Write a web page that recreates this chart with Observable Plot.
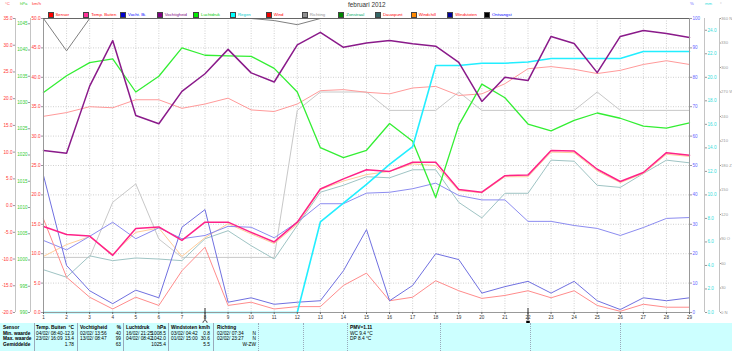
<!DOCTYPE html>
<html><head><meta charset="utf-8">
<script src="https://cdn.jsdelivr.net/npm/d3@7"></script>
<script src="https://cdn.jsdelivr.net/npm/@observablehq/plot@0.6"></script>
<style>
body{margin:0;background:#fff;font-family:"Liberation Sans",Arial,sans-serif;}
#wrap{position:relative;width:732px;height:351px;overflow:hidden;background:#fff;}
#chart{position:absolute;left:0;top:0;}
.t{position:absolute;white-space:nowrap;line-height:1;}
.lg{position:absolute;top:12px;height:5px;font-size:4.3px;line-height:5px;white-space:nowrap;}
.lg i{display:inline-block;width:4px;height:4px;border:0.5px solid #444;vertical-align:top;margin-right:2px;margin-top:0.3px;}
#tbl{position:absolute;left:0;top:323px;width:732px;height:28px;background:#ccffff;font-size:4.8px;}
#tbl .b{font-weight:bold;}
.vs{position:absolute;top:0;height:28px;border-left:0.6px solid #9ab;}
.vd{position:absolute;top:0;height:28px;border-left:0.6px dotted #9ab;}
</style></head><body><div id="wrap"><div id="chart"></div></div>
<script>
// ---------- data ----------
const days = [1,2,3,4,5,6,7,8,9,10,11,12,13,14,15,16,17,18,19,20,21,22,23,24,25,26,27,28,29];
// Sensor temperature (°C)
const sensorTemp = [16.7,17.4,18.5,18.3,19.8,19.8,18.2,19.0,20.1,17.9,17.6,19.0,21.5,21.7,21.2,20.9,22.0,22.3,20.6,20.9,22.8,25.6,26.0,25.5,24.7,25.3,26.4,27.1,26.4];
// Temp. Buiten (°C)
const tempBuiten = [-3.9,-5.4,-5.7,-9.3,-4.3,-4.0,-6.5,-3.1,-3.1,-5.0,-6.8,-3.1,3.1,5.0,6.7,6.4,8.1,8.1,3.0,2.5,5.6,5.7,10.3,10.2,6.8,4.5,6.2,9.9,9.4];
// Windchill (°C)
const windchill = [-9.5,-7.3,-5.8,-9.1,-5.0,-4.2,-9.5,-6.0,-3.4,-5.3,-7.1,-3.5,3.0,4.6,5.8,6.4,7.8,7.5,2.8,2.4,5.4,5.4,10.0,9.9,6.5,4.3,6.0,9.6,9.2];
// Dauwpunt (°C)
const dauwpunt = [-12.0,-13.4,-9.4,-10.3,-9.8,-10.0,-10.3,-6.2,-4.7,-7.5,-10.0,-3.7,2.5,3.8,5.4,5.2,6.7,6.7,0.6,-2.3,2.3,2.3,8.5,8.3,3.8,3.4,6.0,8.5,8.0];
// Vocht. Binnen (%)
const vochtBi = [24.5,21.3,25.9,30.7,25.1,28.8,25.1,26.2,29.3,29.0,25.4,30.7,37.0,37.0,40.6,40.9,42.1,44.0,39.8,38.3,38.3,31.0,31.0,29.6,28.6,26.2,28.9,32.0,32.3];
// Vochtigheid (%)
const vochtigheid = [55.1,54.2,77.0,92.5,67.0,64.2,75.2,81.2,89.5,81.5,78.4,91.0,95.3,90.2,91.7,92.5,91.4,90.6,85.1,71.8,80.0,78.9,93.9,91.5,81.6,93.9,95.9,94.9,93.5];
// Luchtdruk (hPa)
const luchtdruk = [1031.9,1035.1,1037.6,1038.3,1032.0,1035.0,1040.4,1039.0,1038.9,1038.8,1036.5,1032.0,1021.4,1019.5,1020.9,1026.0,1022.6,1011.9,1025.7,1033.5,1030.9,1025.9,1024.6,1026.6,1028.0,1027.0,1025.5,1025.1,1026.1];
// Regen (mm, cumulative)
const regen = [0,0,0,0,0,0,0,0,0,0,0,0,7.7,9.3,10.9,12.6,14.1,21.0,21.0,21.2,21.2,21.3,21.6,21.6,21.6,21.6,22.2,22.2,22.2];
// Wind (km/h)
const wind = [15.9,6.0,2.6,0.6,2.6,1.2,7.1,11.1,1.2,1.75,0.6,1.0,1.0,4.6,6.7,2.0,2.6,5.4,3.7,2.4,2.9,3.7,2.5,3.7,1.2,0.2,1.4,0.9,0.9];
// Windstoten (km/h)
const windstoten = [23.3,8.0,3.7,1.5,3.8,2.5,14.5,17.5,1.75,2.5,1.4,1.75,2.0,7.1,14.1,2.0,4.6,10.0,9.0,3.3,4.4,5.3,3.3,5.3,2.0,0.5,2.5,2.0,2.5];
// Richting (degrees)
const richting = [67.5,67.5,67.5,135,157.5,90,67.5,67.5,67.5,67.5,67.5,247.5,270,270,270,247.5,247.5,247.5,270,247.5,247.5,247.5,247.5,247.5,270,247.5,247.5,247.5,247.5];
// Ontvangst (%)
const ontvangst = [100,89,100,100,100,100,100,100,100,100,99.3,97.9,100,100,100,100,100,100,100,100,100,100,100,100,100,100,100,100,100];
// moon markers
const moonFull = [8];
const moonNew = [22];

// axis ranges and tick labels
const axKmh = {min:0, max:50};
const axC = {min:-20, max:35};
const axHpa = {min:990, max:1046};
const axPct = {min:0, max:100};
const axMm = {min:0, max:25};
const axDir = {min:0, max:360};
const kmhTicks = [0,5,10,15,20,25,30,35,40,45,50];
const cTicks = [-20,-15,-10,-5,0,5,10,15,20,25,30,35];
const hpaTicks = [990,995,1000,1005,1010,1015,1020,1025,1030,1035,1040,1045];
const pctTicks = [0,10,20,30,40,50,60,70,80,90,100];
const mmTicks = [0,2,4,6,8,10,12,14,16,18,20,22,24];
const dirTicks = [0,30,60,90,120,150,180,210,240,270,300,330,360];
const dirLabels = ["0 N","30","60","90 O","120","150","180 Z","210","240","270 W","300","330","360 N"];

const legendNames = ["Sensor","Temp. Buiten","Vocht. Bi.","Vochtigheid","Luchtdruk","Regen","Wind","Richting","Zonstraal","Dauwpunt","Windchill","Windstoten","Ontvangst"];
const legendBox = ["#ff0000","#ff3399","#0000cc","#800080","#00ee00","#00ffff","#ee0000","#909090","#008800","#336666","#ff8800","#000099","#000000"];
const legendText = ["#ff0000","#ff0000","#0000ff","#800080","#00cc00","#00cccc","#ff0000","#909090","#00aa66","#ff0000","#ff0000","#ff0000","#0000ff"];

// ---------- helpers ----------
const f = (ax, v) => (v - ax.min) / (ax.max - ax.min);
const rows = (vals, ax) => days.map((d, i) => ({d, y: f(ax, vals[i])}));
const L = (vals, ax, stroke, w) => Plot.line(rows(vals, ax), {x: "d", y: "y", stroke, strokeWidth: w});
const fs = 4.6;
const axis = (ticks, ax, anchor, dx, color, fmt, size) =>
  Plot.axisY(ticks.map(v => f(ax, v)), {anchor, dx, label: null, tickSize: 2, tickPadding: 1, fontSize: size || fs, fill: color, stroke: "#999",
    tickFormat: (d) => fmt(ax.min + d * (ax.max - ax.min))});

const chart = Plot.plot({
  width: 732, height: 323,
  marginTop: 18, marginBottom: 11, marginLeft: 43, marginRight: 43,
  style: {fontFamily: "Liberation Sans, Arial, sans-serif", background: "transparent"},
  x: {domain: [1, 29], label: null},
  y: {domain: [0, 1], label: null},
  axis: null,
  marks: [
    Plot.ruleX(days, {stroke: "#bbb", strokeWidth: 0.7, strokeDasharray: "1,1.5"}),
    Plot.ruleY(pctTicks.map(v => f(axPct, v)), {stroke: "#bbb", strokeWidth: 0.7, strokeDasharray: "1,1.5"}),
    L(richting, axDir, "#c8c8c8", 1),
    L(ontvangst, axPct, "#808080", 1),
    L(sensorTemp, axC, "#ff9a9a", 1),
    L(dauwpunt, axC, "#9fc4c4", 1),
    L(windchill, axC, "#ffcc99", 1),
    L(vochtBi, axPct, "#8c8cf0", 1),
    L(wind, axKmh, "#ff8c8c", 1),
    L(windstoten, axKmh, "#7070e0", 1),
    L(luchtdruk, axHpa, "#33ee33", 1.3),
    L(regen, axMm, "#22eeff", 1.6),
    L(tempBuiten, axC, "#ff2288", 1.5),
    L(vochtigheid, axPct, "#8a1a8a", 1.5),
    Plot.frame({stroke: "#999", strokeWidth: 1}),
    Plot.ruleY([1], {stroke: "#666", strokeWidth: 1}),
    Plot.ruleX([1], {dx: -28, stroke: "#c4c4c4", strokeWidth: 1}),
    Plot.ruleX([1], {dx: -13, stroke: "#c4c4c4", strokeWidth: 1}),
    Plot.ruleX([29], {dx: 15, stroke: "#c4c4c4", strokeWidth: 1}),
    Plot.ruleX([29], {dx: 30, stroke: "#c4c4c4", strokeWidth: 1}),
    axis(kmhTicks, axKmh, "left", 0, "#ff3333", v => v.toFixed(1)),
    axis(hpaTicks, axHpa, "left", -13, "#33cc33", v => String(Math.round(v))),
    axis(cTicks, axC, "left", -28, "#ff3333", v => v.toFixed(1)),
    axis(pctTicks, axPct, "right", 0, "#6666ff", v => String(Math.round(v))),
    axis(mmTicks, axMm, "right", 15, "#33dddd", v => v.toFixed(1)),
    Plot.axisY(dirTicks.map(v => f(axDir, v)), {anchor: "right", dx: 30, label: null, tickSize: 1, tickPadding: 0.5, fontSize: 4.2, fill: "#999", stroke: "#999",
      tickFormat: d => dirLabels[dirTicks.indexOf(Math.round(d * 360))]}),
    Plot.axisX(days, {label: null, tickSize: 2, tickPadding: 1, fontSize: fs, fill: "#333", stroke: "#666"}),
    Plot.ruleX([...moonFull, ...moonNew], {y1: 0, y2: 0, insetTop: -4, insetBottom: -8, stroke: "#333", strokeWidth: 1}),
    Plot.dot(moonFull, {x: d => d, y: 0, dy: 10, r: 2, stroke: "#333", fill: "none", strokeWidth: 0.8}),
    Plot.dot(moonNew, {x: d => d, y: 0, dy: 10, r: 2, symbol: "square", fill: "#000", stroke: "none"})
  ]
});
document.getElementById("chart").appendChild(chart);

// ---------- title, units, legend ----------
const wrap = document.getElementById("wrap");
function addText(txt, x, y, size, color, extra) {
  const el = document.createElement("div");
  el.className = "t"; el.textContent = txt;
  el.style.left = x + "px"; el.style.top = y + "px"; el.style.fontSize = size + "px"; el.style.color = color;
  if (extra) Object.assign(el.style, extra);
  wrap.appendChild(el); return el;
}
addText("februari 2012", 348, 2, 6.4, "#333");
addText("°C", 5, 2, 4.2, "#ff3333");
addText("hPa", 20, 2, 4.2, "#33cc33");
addText("km/h", 32, 2, 4.2, "#ff3333");
addText("%", 690, 2, 4.2, "#6666ff");
addText("mm", 705, 2, 4.2, "#33dddd");
addText("°", 720, 2, 4.2, "#999");
const legendX = [47.5,83.3,120,156.7,193,230,265.7,301.7,338.3,375,410.7,447.3,484];
legendNames.forEach((n, i) => {
  const el = document.createElement("div");
  el.className = "lg"; el.style.left = legendX[i] + "px"; el.style.color = legendText[i];
  el.innerHTML = `<i style="background:${legendBox[i]}"></i>${n}`;
  wrap.appendChild(el);
});

// ---------- table ----------
const tbl = document.createElement("div"); tbl.id = "tbl"; wrap.appendChild(tbl);
const rowY = [2.5, 8.6, 14.4, 20.2];
const rowLabels = ["Sensor","Min. waarde","Max. waarde","Gemiddelde"];
const colHead = [["Temp. Buiten","°C"],["Vochtigheid","%"],["Luchtdruk","hPa"],["Windstoten","km/h"],["Richting",""]];
const colX = [36, 80, 126, 171, 217];
const colR = [74, 121, 166, 210, 256];
const minVals = [["04/02/ 08:40","-12.9"],["02/02/ 13:56","40"],["16/02/ 21:25","1008.5"],["03/02/ 04:42","0.8"],["02/02/ 07:34","N"]];
const maxVals = [["23/02/ 16:09","13.4"],["13/02/ 08:47","99"],["04/02/ 08:42","1042.0"],["01/02/ 15:00","30.6"],["02/02/ 23:27","N"]];
const avgVals = ["1.78","63","1025.4","5.5","W-ZW"];
const pmv = ["PMV=1.11","WC 9.4 °C","DP 8.4 °C"];
function tt(txt, x, y, cls, right) {
  const el = document.createElement("div");
  el.className = "t " + (cls || ""); el.textContent = txt; el.style.top = y + "px";
  if (right) { el.style.right = (732 - x) + "px"; } else { el.style.left = x + "px"; }
  tbl.appendChild(el);
}
rowLabels.forEach((r, i) => tt(r, 3, rowY[i], "b"));
colHead.forEach((c, j) => { tt(c[0], colX[j], rowY[0], "b"); if (c[1]) tt(c[1], colR[j], rowY[0], "b", true); });
minVals.forEach((c, j) => { tt(c[0], colX[j], rowY[1]); tt(c[1], colR[j], rowY[1], "", true); });
maxVals.forEach((c, j) => { tt(c[0], colX[j], rowY[2]); tt(c[1], colR[j], rowY[2], "", true); });
avgVals.forEach((v, j) => tt(v, colR[j], rowY[3], "", true));
pmv.forEach((p, i) => tt(p, 350, rowY[i], i === 0 ? "b" : ""));
[34, 77, 123, 168, 213].forEach(x => { const s = document.createElement("div"); s.className = "vs"; s.style.left = x + "px"; tbl.appendChild(s); });
[258, 303, 347, 440, 530, 620].forEach(x => { const s = document.createElement("div"); s.className = "vd"; s.style.left = x + "px"; tbl.appendChild(s); });
</script>
</body></html>
